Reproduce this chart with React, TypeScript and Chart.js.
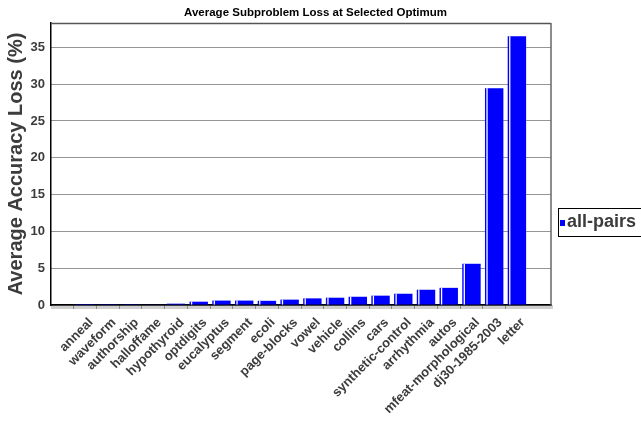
import React, { useEffect, useRef } from "react";
import { Chart, registerables } from "chart.js";

Chart.register(...registerables);

// Data sets on the x axis, ordered by loss
const datasetNames: string[] = [
  "anneal",
  "waveform",
  "authorship",
  "halloffame",
  "hypothyroid",
  "optdigits",
  "eucalyptus",
  "segment",
  "ecoli",
  "page-blocks",
  "vowel",
  "vehicle",
  "collins",
  "cars",
  "synthetic-control",
  "arrhythmia",
  "autos",
  "mfeat-morphological",
  "dj30-1985-2003",
  "letter",
];

// Average accuracy loss (%) of the all-pairs decomposition
const allPairsLoss: number[] = [
  0.01, 0.02, 0.03, 0.05, 0.18, 0.45, 0.6, 0.6, 0.57, 0.73, 0.9, 0.99, 1.12,
  1.27, 1.53, 2.07, 2.33, 5.6, 29.45, 36.5,
];

const seriesName = "all-pairs";
const chartTitle = "Average Subproblem Loss at Selected Optimum";
const yAxisTitle = "Average Accuracy Loss (%)";
const yTickStep = 5;
const yMax = 38.3;

const FONT = "'Liberation Sans', Arial, Helvetica, sans-serif";
const TEXT_GREY = "#3c3c3c";
const BAR_BLUE = "#0000ff";

// Frame, shaded axis edge and the title
const framePlugin = {
  id: "frame",
  beforeDraw(chart: any) {
    const { ctx, chartArea } = chart;
    const { left, right, bottom } = chartArea;
    ctx.save();
    ctx.fillStyle = "#cfcfcf";
    ctx.fillRect(left, bottom, right - left + 2, 4);
    ctx.restore();
  },
  afterDraw(chart: any) {
    const { ctx, chartArea } = chart;
    const { left, right, top, bottom } = chartArea;
    ctx.save();
    ctx.strokeStyle = "#555555";
    ctx.lineWidth = 1.5;
    ctx.beginPath();
    ctx.moveTo(left, top + 0.5);
    ctx.lineTo(right, top + 0.5);
    ctx.stroke();
    ctx.strokeStyle = "#666666";
    ctx.beginPath();
    ctx.moveTo(right, top);
    ctx.lineTo(right, bottom);
    ctx.stroke();

    ctx.fillStyle = "#000000";
    ctx.font = `bold 11.5px ${FONT}`;
    ctx.textAlign = "center";
    ctx.textBaseline = "middle";
    ctx.fillText(chartTitle, 315.5, 13);
    ctx.restore();
  },
};

// Thin light seam near the left edge of each bar
const barSeamPlugin = {
  id: "barSeam",
  afterDatasetsDraw(chart: any) {
    const { ctx } = chart;
    const meta = chart.getDatasetMeta(0);
    ctx.save();
    ctx.fillStyle = "#ffffff";
    meta.data.forEach((bar: any) => {
      if (bar.skip || bar.y == null || isNaN(bar.y)) return;
      const h = bar.base - bar.y;
      if (h < 1.5) return;
      const x0 = bar.x - bar.width / 2 + 1.4;
      ctx.fillRect(x0, bar.y, 1.3, h);
    });
    ctx.restore();
  },
};

// Boxed legend at the right
const boxLegendPlugin = {
  id: "boxLegend",
  afterDraw(chart: any) {
    const { ctx } = chart;
    const ds = chart.data.datasets[0];
    ctx.save();
    ctx.fillStyle = "#ffffff";
    ctx.fillRect(558, 208, 90, 29);
    ctx.strokeStyle = "#000000";
    ctx.lineWidth = 1;
    ctx.strokeRect(558.5, 208.5, 90, 28);
    ctx.fillStyle = ds.backgroundColor;
    ctx.fillRect(560, 220, 5, 6);
    ctx.fillStyle = TEXT_GREY;
    ctx.font = `bold 18px ${FONT}`;
    ctx.textAlign = "left";
    ctx.textBaseline = "alphabetic";
    ctx.fillText(ds.label, 567, 227);
    ctx.restore();
  },
};

export default function App() {
  const canvasRef = useRef<HTMLCanvasElement | null>(null);

  useEffect(() => {
    const canvas = canvasRef.current;
    if (!canvas) return;
    // empty slot at each end pads the category axis
    const labels = ["", ...datasetNames, ""];
    const values = [null, ...allPairsLoss, null];

    const chart = new Chart(canvas, {
      type: "bar",
      data: {
        labels,
        datasets: [
          {
            label: seriesName,
            data: values as any,
            backgroundColor: BAR_BLUE,
            borderWidth: 0,
            barPercentage: 0.81,
            categoryPercentage: 1,
          },
        ],
      },
      options: {
        responsive: false,
        animation: false,
        devicePixelRatio: 1,
        layout: { padding: { top: 23, right: 90, left: 0, bottom: 0 } },
        plugins: {
          legend: { display: false },
          title: { display: false },
          tooltip: { enabled: false },
        },
        scales: {
          x: {
            grid: {
              display: true,
              drawOnChartArea: false,
              drawTicks: true,
              tickLength: 4,
              tickColor: (ctx: any) =>
                ctx.tick && ctx.index > 0 && ctx.index <= datasetNames.length
                  ? "#8a8a8a"
                  : "rgba(0,0,0,0)",
            },
            border: { display: true, color: "#000000", width: 1.5 },
            ticks: {
              autoSkip: false,
              minRotation: 45,
              maxRotation: 45,
              padding: 6,
              labelOffset: 6,
              color: TEXT_GREY,
              font: { family: FONT, weight: "bold", size: 13 },
            },
            afterFit: (scale: any) => {
              scale.height = 116;
            },
          },
          y: {
            min: 0,
            max: yMax,
            grid: {
              color: "#2a2a2a",
              lineWidth: 1,
              drawTicks: false,
            },
            border: { display: true, color: "#000000", width: 1.5, dash: [1, 1] },
            ticks: {
              stepSize: yTickStep,
              includeBounds: false,
              padding: 6,
              color: TEXT_GREY,
              font: { family: FONT, weight: "bold", size: 13 },
            },
            title: {
              display: true,
              text: yAxisTitle,
              color: TEXT_GREY,
              font: { family: FONT, weight: "bold", size: 20 },
              padding: { top: 4, bottom: 0 },
            },
            afterFit: (scale: any) => {
              scale.width = 51;
            },
          },
        },
      },
      plugins: [framePlugin, barSeamPlugin, boxLegendPlugin],
    } as any);

    return () => chart.destroy();
  }, []);

  return (
    <div
      style={{
        position: "absolute",
        left: 0,
        top: 0,
        width: 641,
        height: 421,
        background: "#ffffff",
        overflow: "hidden",
      }}
    >
      <canvas
        ref={canvasRef}
        width={641}
        height={421}
        style={{ display: "block", width: 641, height: 421 }}
      />
    </div>
  );
}
